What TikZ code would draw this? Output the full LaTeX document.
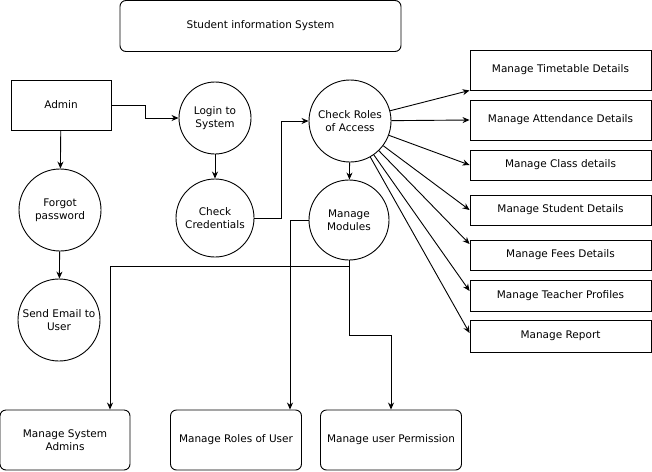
\documentclass[tikz,border=0pt]{standalone}
\usepackage{fontspec}
\setmainfont{DejaVu Sans}
\usetikzlibrary{arrows.meta}

\tikzset{
  proc/.style={draw,circle,line width=.9pt,align=center,inner sep=0pt},
  entity/.style={draw,rectangle,line width=.9pt,align=center,inner sep=1pt},
  store/.style={entity,rounded corners=6pt},
  flow/.style={line width=.9pt,-{Stealth[length=7pt,width=6pt]}},
}

\begin{document}
\begin{tikzpicture}[x=1pt,y=-1pt,font=\fontsize{10.5}{13}\selectfont]
  \useasboundingbox (0,0) rectangle (652,471);
  % Title
  \node (title) [store,minimum width=281,minimum height=51] at (260.5,26) {Student information System};

  % Draw processes
  \node (admin)  [entity,minimum width=100,minimum height=50] at (61,105) {Admin};
  \node (login)  [proc,minimum size=72] at (215,118) {Login to\\System};
  \node (cred)   [proc,minimum size=78] at (215,218) {Check\\Credentials};
  \node (chk)    [proc,minimum size=82] at (350,121) {Check Roles\\of Access};
  \node (mod)    [proc,minimum size=80] at (349,220) {Manage\\Modules};
  \node (forgot) [proc,minimum size=82] at (60,210)  {Forgot\\password};
  \node (email)  [proc,minimum size=82] at (59,320)  {Send Email to\\User};

  % Draw right column
  \node (tt)  [entity,minimum width=181,minimum height=40] at (560.5,70)  {Manage Timetable Details};
  \node (att) [entity,minimum width=181,minimum height=40] at (560.5,120) {Manage Attendance Details};
  \node (cls) [entity,minimum width=181,minimum height=30] at (560.5,165) {Manage Class details};
  \node (std) [entity,minimum width=181,minimum height=30] at (560.5,210) {Manage Student Details};
  \node (fee) [entity,minimum width=181,minimum height=30] at (560.5,255) {Manage Fees Details};
  \node (tch) [entity,minimum width=181,minimum height=31] at (560.5,296) {Manage Teacher Profiles};
  \node (rep) [entity,minimum width=181,minimum height=32] at (560.5,336) {Manage Report};

  % Draw bottom row
  \node (sysadm) [store,minimum width=130,minimum height=60] at (65,440)  {Manage System\\Admins};
  \node (roles)  [store,minimum width=131,minimum height=60] at (236,440) {Manage Roles of User};
  \node (perm)   [store,minimum width=141,minimum height=60] at (391,440) {Manage user Permission};

  % Draw flows
  \draw[flow] (admin.east) -- ++(34,0) |- (login.west);
  \draw[flow] (login) -- (cred);
  \draw[flow] (cred.east) -- ++(27,0) |- (chk.west);
  \draw[flow] (chk) -- (mod);
  \draw[flow] (admin) -- (forgot);
  \draw[flow] (forgot) -- (email);

  \draw[flow] (chk) -- (tt.south west);
  \draw[flow] (chk) -- (att.west);
  \draw[flow] (chk) -- (cls.west);
  \draw[flow] (chk) -- (std.west);
  \draw[flow] (chk) -- ([yshift=11pt]fee.west);
  \draw[flow] (chk) -- ([yshift=5pt]tch.west);
  \draw[flow] (chk) -- ([yshift=3pt]rep.west);

  \draw[flow] (mod.south) -- ++(0,6) -| ([xshift=45pt]sysadm.north);
  \draw[flow] (mod.south) -- ++(0,75) -| (perm.north);
  \draw[flow] (mod.west) -| ([xshift=54pt]roles.north);
\end{tikzpicture}
\end{document}
